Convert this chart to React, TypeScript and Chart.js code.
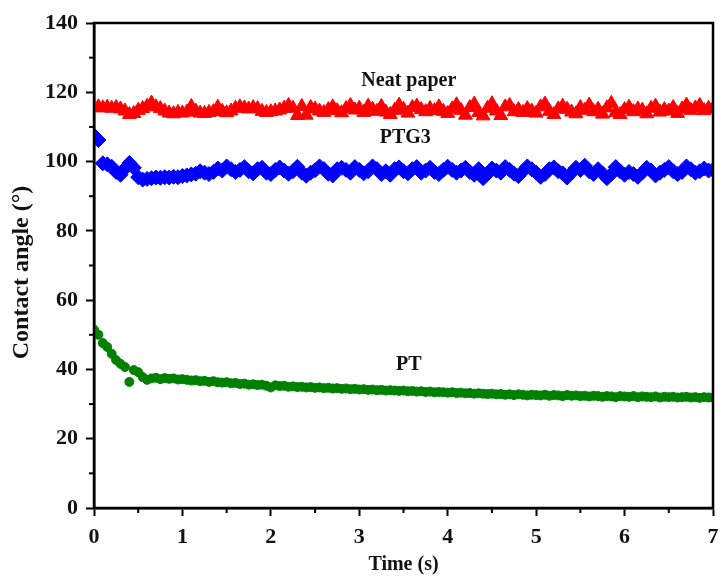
import React, { useEffect, useRef } from "react";
import { Chart, registerables } from "chart.js";

Chart.register(...registerables);

const timeS = [
  0.00,0.05,0.10,0.15,0.20,0.25,0.30,0.35,0.40,0.45,
  0.50,0.55,0.60,0.65,0.70,0.75,0.80,0.85,0.90,0.95,
  1.00,1.05,1.10,1.15,1.20,1.25,1.30,1.35,1.40,1.45,
  1.50,1.55,1.60,1.65,1.70,1.75,1.80,1.85,1.90,1.95,
  2.00,2.05,2.10,2.15,2.20,2.25,2.30,2.35,2.40,2.45,
  2.50,2.55,2.60,2.65,2.70,2.75,2.80,2.85,2.90,2.95,
  3.00,3.05,3.10,3.15,3.20,3.25,3.30,3.35,3.40,3.45,
  3.50,3.55,3.60,3.65,3.70,3.75,3.80,3.85,3.90,3.95,
  4.00,4.05,4.10,4.15,4.20,4.25,4.30,4.35,4.40,4.45,
  4.50,4.55,4.60,4.65,4.70,4.75,4.80,4.85,4.90,4.95,
  5.00,5.05,5.10,5.15,5.20,5.25,5.30,5.35,5.40,5.45,
  5.50,5.55,5.60,5.65,5.70,5.75,5.80,5.85,5.90,5.95,
  6.00,6.05,6.10,6.15,6.20,6.25,6.30,6.35,6.40,6.45,
  6.50,6.55,6.60,6.65,6.70,6.75,6.80,6.85,6.90,6.95,
  7.00,
];

const neatPaper = [
  115.6,115.8,115.5,115.7,115.4,115.6,115.2,114.6,113.6,113.9,
  114.8,115.3,116.0,116.9,115.8,115.3,114.6,114.0,113.8,114.2,
  114.0,114.3,115.9,114.6,114.0,113.9,114.2,114.4,115.7,114.5,
  114.1,114.6,115.4,115.8,115.5,115.2,115.6,115.3,114.5,114.2,
  114.4,114.6,114.9,115.4,116.2,115.4,113.3,115.9,113.4,115.6,
  115.2,114.6,114.2,115.0,115.8,114.7,114.1,115.3,116.2,114.9,
  115.4,114.2,116.0,115.1,114.5,115.9,114.3,113.6,114.8,116.3,
  115.1,114.0,115.6,116.0,115.0,114.4,115.3,114.7,115.8,114.5,
  113.9,115.2,116.4,114.8,113.4,115.6,116.6,114.2,113.2,115.4,
  116.7,114.6,113.3,115.8,116.2,114.4,115.0,114.2,115.3,114.6,
  114.0,115.8,116.6,114.5,113.6,115.2,116.0,115.1,114.3,113.8,
  115.6,114.8,116.3,114.4,115.1,113.7,115.5,116.8,114.2,113.6,
  115.0,115.7,114.4,115.2,114.8,113.8,115.4,116.0,114.3,115.0,
  114.6,115.6,113.9,115.2,116.3,114.8,115.5,116.2,114.7,115.4,
  115.2,
];

const ptg3 = [
  107.5,106.2,99.5,99.2,98.5,97.0,96.2,98.0,99.6,98.2,
  95.5,94.8,95.0,95.2,95.4,95.3,95.5,95.4,95.6,95.5,
  95.8,96.0,96.3,96.5,97.2,96.8,96.4,97.0,98.0,97.4,
  98.6,97.8,97.0,97.6,98.4,97.2,96.6,97.8,98.2,96.8,
  96.4,97.6,98.3,97.4,96.5,97.2,98.5,96.8,95.9,96.8,
  97.5,98.6,97.8,96.5,96.0,97.8,98.2,97.6,96.8,98.4,
  97.6,96.6,97.2,98.6,97.8,96.4,97.2,96.2,97.8,98.3,
  97.2,96.6,97.8,98.4,96.8,97.4,98.2,97.0,96.4,97.6,
  98.5,97.6,96.8,97.4,98.2,97.0,96.2,97.8,95.2,96.4,
  98.0,97.4,96.8,98.4,97.6,96.5,95.8,97.2,98.6,97.8,
  96.8,95.6,96.4,97.8,98.3,97.2,96.6,95.4,96.8,98.2,
  97.6,98.8,97.2,96.4,97.8,96.6,95.2,96.4,98.4,97.2,
  96.2,97.0,96.4,95.6,96.8,98.2,97.4,96.0,96.8,97.6,
  98.4,97.2,96.4,97.0,98.6,97.8,96.8,97.2,98.0,97.4,
  97.6,
];

const pt = [
  51.5,50.0,47.6,46.5,44.5,42.7,41.6,40.7,36.4,39.8,
  39.2,37.8,37.0,37.4,37.6,37.2,37.5,37.3,37.4,37.1,
  37.2,37.0,36.8,36.9,36.6,36.7,36.4,36.6,36.3,36.2,
  36.3,36.0,36.1,35.8,35.9,35.6,35.7,35.5,35.6,35.3,
  34.8,35.4,35.2,35.3,35.0,35.1,34.9,35.0,34.8,34.9,
  34.7,34.8,34.6,34.7,34.5,34.6,34.4,34.5,34.3,34.4,
  34.2,34.3,34.1,34.2,34.0,34.1,33.9,34.0,33.9,33.8,
  33.9,33.7,33.8,33.6,33.7,33.5,33.6,33.4,33.5,33.4,
  33.3,33.4,33.2,33.3,33.1,33.2,33.0,33.1,33.0,32.9,
  33.0,32.8,32.9,32.7,32.8,32.6,32.8,32.7,32.5,32.7,
  32.6,32.5,32.7,32.4,32.6,32.5,32.3,32.6,32.4,32.5,
  32.3,32.4,32.2,32.4,32.3,32.1,32.3,32.2,32.0,32.3,
  32.2,32.1,32.3,32.0,32.2,32.1,32.0,32.2,31.9,32.1,
  32.0,32.1,31.9,32.0,32.1,31.9,32.0,31.8,32.0,31.9,
  31.9,
];

const labels = [
  { text: "Neat paper", x: 3.56, y: 123.4 },
  { text: "PTG3", x: 3.52, y: 106.8 },
  { text: "PT", x: 3.56, y: 41.3 },
];

const yTitle = "Contact angle (°)";
const xTitle = "Time (s)";

const yMinorTicks = [10, 30, 50, 70, 90, 110, 130];
const xMinorTicks = [0.5, 1.5, 2.5, 3.5, 4.5, 5.5, 6.5];

const FONT = "'Liberation Serif', 'Times New Roman', serif";

function toPoints(ys: number[]) {
  return timeS.map((t, i) => ({ x: t, y: ys[i] }));
}

export default function App() {
  const ref = useRef<HTMLCanvasElement | null>(null);
  useEffect(() => {
    if (!ref.current) return;
    const framePlugin = {
      id: "frame",
      afterDraw(chart: any) {
        const { ctx, chartArea } = chart;
        const xs = chart.scales.x;
        const ys = chart.scales.y;
        ctx.save();
        ctx.strokeStyle = "#000";
        ctx.lineWidth = 2.5;
        ctx.strokeRect(chartArea.left, chartArea.top, chartArea.right - chartArea.left, chartArea.bottom - chartArea.top);
        ctx.lineWidth = 2;
        yMinorTicks.forEach((v) => {
          const p = ys.getPixelForValue(v);
          ctx.beginPath();
          ctx.moveTo(chartArea.left - 5, p);
          ctx.lineTo(chartArea.left, p);
          ctx.stroke();
        });
        xMinorTicks.forEach((v) => {
          const p = xs.getPixelForValue(v);
          ctx.beginPath();
          ctx.moveTo(p, chartArea.bottom);
          ctx.lineTo(p, chartArea.bottom + 5);
          ctx.stroke();
        });
        ctx.fillStyle = "#111";
        ctx.font = `bold 20px ${FONT}`;
        ctx.textAlign = "center";
        ctx.textBaseline = "middle";
        labels.forEach((l) => {
          ctx.fillText(l.text, xs.getPixelForValue(l.x), ys.getPixelForValue(l.y));
        });
        // y-axis title
        ctx.save();
        ctx.translate(22, (chartArea.top + chartArea.bottom) / 2 + 7);
        ctx.rotate(-Math.PI / 2);
        ctx.font = `bold 24px ${FONT}`;
        ctx.fillText(yTitle, 0, 0);
        ctx.restore();
        // x-axis title
        ctx.font = `bold 20px ${FONT}`;
        ctx.fillText(xTitle, (chartArea.left + chartArea.right) / 2, 565);
        ctx.restore();
      },
    };
    const chart = new Chart(ref.current, {
      type: "scatter",
      data: {
        datasets: [
          {
            label: "Neat paper",
            data: toPoints(neatPaper),
            pointStyle: "triangle",
            pointRadius: 8,
            backgroundColor: "rgb(255,0,0)",
            borderColor: "rgb(255,0,0)",
            borderWidth: 1,
          },
          {
            label: "PTG3",
            data: toPoints(ptg3),
            pointStyle: "rectRot",
            pointRadius: 7.5,
            backgroundColor: "rgb(0,0,255)",
            borderColor: "rgb(0,0,255)",
            borderWidth: 1,
          },
          {
            label: "PT",
            data: toPoints(pt),
            pointStyle: "circle",
            pointRadius: 4.5,
            backgroundColor: "rgb(0,128,0)",
            borderColor: "rgb(0,128,0)",
            borderWidth: 1,
          },
        ],
      },
      options: {
        animation: false,
        responsive: false,
        layout: { padding: { left: 0, right: 7, top: 23, bottom: 0 } },
        plugins: { legend: { display: false }, tooltip: { enabled: false } },
        scales: {
          x: {
            type: "linear",
            min: 0,
            max: 7,
            ticks: { stepSize: 1, color: "#111", font: { family: FONT, size: 22, weight: "bold" }, padding: 8 },
            grid: { drawOnChartArea: false, drawTicks: true, tickLength: 8, tickColor: "#000", tickWidth: 2 },
            border: { color: "#000", width: 2.5 },
            title: { display: false },
            afterFit: (s: any) => { s.height = 70; s.paddingRight = 0; s.paddingLeft = 0; },
          },
          y: {
            type: "linear",
            min: 0,
            max: 140,
            ticks: { stepSize: 20, color: "#111", font: { family: FONT, size: 22, weight: "bold" }, padding: 8 },
            grid: { drawOnChartArea: false, drawTicks: true, tickLength: 8, tickColor: "#000", tickWidth: 2 },
            border: { color: "#000", width: 2.5 },
            title: { display: false },
            afterFit: (s: any) => { s.width = 94; s.paddingTop = 0; s.paddingBottom = 0; },
          },
        },
      },
      plugins: [framePlugin],
    } as any);
    return () => chart.destroy();
  }, []);
  return (
    <div style={{ position: "absolute", left: 0, top: 0, width: 722, height: 578, background: "#fff" }}>
      <canvas ref={ref} width={722} height={578} />
    </div>
  );
}
